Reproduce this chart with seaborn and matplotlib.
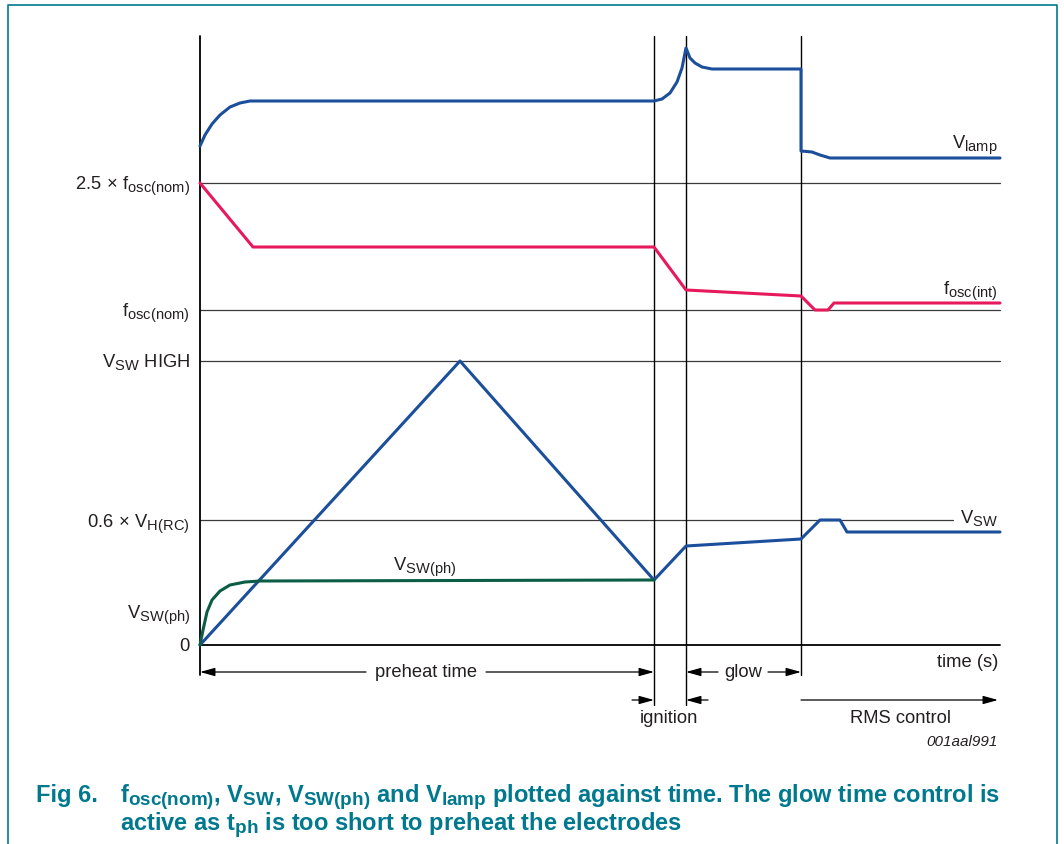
import matplotlib
matplotlib.use("Agg")
import matplotlib.pyplot as plt
import matplotlib._mathtext as _mt
from matplotlib.lines import Line2D
import seaborn as sns
import pandas as pd

# ---------------- data (picture units: time along x, level along y) ----------------
X0, Y0 = 200, 645  # origin

vlamp_t = [200, 205, 212, 220, 230, 240, 250, 654, 662, 670, 677, 682, 686, 690, 695, 702, 712, 801, 801, 812, 820, 830, 1000]
vlamp_v = [146, 135, 124, 115, 107, 103, 101, 101, 99, 93, 82, 68, 48, 58, 63, 67, 69, 69, 151, 152, 155, 158, 158]

fosc_t = [200, 253, 654, 686, 801, 815, 828, 834, 1000]
fosc_v = [183, 247, 247, 290, 296, 310, 310, 303, 303]

vsw_t = [200, 460, 654, 686, 801, 820, 840, 847, 1000]
vsw_v = [645, 361, 580, 546, 539, 520, 520, 532, 532]

vswph_t = [200, 203, 207, 212, 220, 230, 245, 260, 654]
vswph_v = [645, 630, 612, 600, 591, 585, 582, 581, 580]

level_labels = [r"$\mathrm{2.5\,\times\,f_{osc(nom)}}$", r"$\mathrm{f_{osc(nom)}}$",
                r"$\mathrm{V_{SW}\ HIGH}$", r"$\mathrm{0.6\,\times\,V_{H(RC)}}$",
                r"$\mathrm{V_{SW(ph)}}$", "0"]
level_base = [189, 316, 367, 527, 618, 651]
ref_lines = [183, 310, 361, 520]
ref_line_end = [1000, 1000, 1000, 953]
phase_x = [654, 686, 801]

# ---------------- style ----------------
sns.set_theme(style="white")
plt.rcParams["font.family"] = ["Liberation Sans", "DejaVu Sans"]
plt.rcParams["mathtext.fontset"] = "custom"
plt.rcParams["mathtext.rm"] = "Liberation Sans"
plt.rcParams["mathtext.it"] = "Liberation Sans:italic"
plt.rcParams["mathtext.bf"] = "Liberation Sans:bold"
_mt.SHRINK_FACTOR = 0.8  # larger subscripts, like the reference

BLUE = "#1b4f9c"
PINK = "#e6195c"
GREEN = "#0b5e45"
TEAL = "#00798f"
TXT = "#231f20"
GRID = "#3a3a3a"

def T(px):
    return px - X0

def V(py):
    return Y0 - py

fig = plt.figure(figsize=(10.64, 8.44), dpi=100)
ax = fig.add_axes([0, 0, 1, 1])
ax.set_xlim(T(0), T(1064))
ax.set_ylim(V(844), V(0))
ax.axis("off")

frames = []
for name, ts, vs in [("vlamp", vlamp_t, vlamp_v), ("fosc", fosc_t, fosc_v),
                     ("vsw", vsw_t, vsw_v), ("vswph", vswph_t, vswph_v)]:
    frames.append(pd.DataFrame({"t": [T(a) for a in ts], "v": [V(b) for b in vs], "s": name}))
df = pd.concat(frames, ignore_index=True)

# reference lines
for y, xe in zip(ref_lines, ref_line_end):
    ax.plot([T(200), T(xe)], [V(y), V(y)], color=GRID, lw=0.9, zorder=1)
ax.plot([T(200), T(1000)], [V(645), V(645)], color="black", lw=1.3, zorder=1)
ax.plot([T(200), T(200)], [V(36), V(675)], color="black", lw=1.3, zorder=1)
for x, yb in zip(phase_x, [705, 705, 675]):
    ax.plot([T(x), T(x)], [V(36), V(yb)], color="black", lw=1.0, zorder=1)

sns.lineplot(data=df, x="t", y="v", hue="s", units="s", estimator=None, sort=False,
             palette={"vlamp": BLUE, "fosc": PINK, "vsw": BLUE, "vswph": GREEN},
             lw=2.2, legend=False, ax=ax, zorder=3)

fs = 13.2
def lab(x, yb, s, ha="left", **kw):
    ax.text(T(x), V(yb), s, ha=ha, va="baseline", fontsize=kw.pop("fontsize", fs),
            color=kw.pop("color", TXT), **kw)

for s, yb in zip(level_labels, level_base):
    lab(190, yb, s, ha="right")

lab(998, 148, r"$\mathrm{V_{lamp}}$", ha="right")
lab(998, 294, r"$\mathrm{f_{osc(int)}}$", ha="right")
lab(998, 523, r"$\mathrm{V_{SW}}$", ha="right")
lab(393, 570, r"$\mathrm{V_{SW(ph)}}$", ha="left")
lab(998, 667, "time (s)", ha="right")

def arrow(x1, x2, y):
    ax.annotate("", xy=(T(x2), V(y)), xytext=(T(x1), V(y)),
                arrowprops=dict(arrowstyle="-|>,head_length=0.9,head_width=0.25",
                                color="black", lw=0.9, shrinkA=0, shrinkB=0,
                                mutation_scale=10))

arrow(366, 200, 672)
arrow(486, 654, 672)
lab(426, 677, "preheat time", ha="center")
arrow(718, 686, 672)
arrow(768, 801, 672)
lab(743, 677, "glow", ha="center")
arrow(632, 654, 700)
arrow(708, 686, 700)
lab(669, 723, "ignition", ha="center")
arrow(801, 998, 700)
lab(900, 723, "RMS control", ha="center")
lab(998, 746, "001aal991", ha="right", fontsize=11, style="italic")

# caption
cfs = 17
lab(36, 802, "Fig 6.", fontsize=cfs, color=TEAL, fontweight="bold")
lab(120, 802,
    r"$\mathbf{f_{osc(nom)}}$, $\mathbf{V_{SW}}$, $\mathbf{V_{SW(ph)}}$ and $\mathbf{V_{lamp}}$ plotted against time. The glow time control is",
    fontsize=cfs, color=TEAL, fontweight="bold")
lab(120, 830, r"active as $\mathbf{t_{ph}}$ is too short to preheat the electrodes",
    fontsize=cfs, color=TEAL, fontweight="bold")

# frame border (left, top, right)
fig.add_artist(Line2D([8 / 1064, 8 / 1064, 1057 / 1064, 1057 / 1064],
                      [0, 1 - 5 / 844, 1 - 5 / 844, 0],
                      transform=fig.transFigure, color=TEAL, lw=1.2))

fig.savefig("out.png", dpi=100)
